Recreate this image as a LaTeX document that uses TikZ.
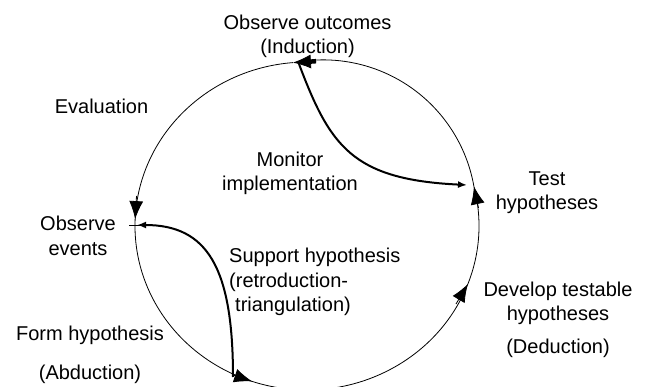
\documentclass[tikz,border=0pt]{standalone}
\usepackage{fontspec}
\setmainfont{Liberation Sans}
\usetikzlibrary{arrows.meta}
\begin{document}
\begin{tikzpicture}[x=1pt,y=1pt,
  lbl/.style={inner sep=0pt, align=center, anchor=base, font=\fontsize{20}{24.5}\selectfont},
  cyc/.style={line width=0.8pt},
  big/.style={-{Latex[length=18pt,width=14pt]}},
  link/.style={line width=2pt, -{Latex[length=9pt,width=7pt]}}]
\fill[white] (0,0) rectangle (646,386);
\useasboundingbox (0,0) rectangle (646,386);

% labels (anchor = baseline of the last line)
\node[lbl] (outc) at (307.5,332.5) {Observe outcomes\\[-1pt](Induction)};
\node[lbl] (eval) at (101.5,272) {Evaluation};
\node[lbl] (mon) at (290,195) {Monitor\\[-0.5pt]implementation};
\node[lbl] (test) at (547,176) {Test\\hypotheses};
\node[lbl] (obsev) at (78,130.5) {Observe\\events};
\node[lbl, anchor=base west, align=left] (supp) at (229,74.3) {Support hypothesis\\(retroduction-\\\hspace*{6pt}triangulation)};
\node[lbl] (dev) at (558,32) {Develop testable\\[-0.5pt]hypotheses\\[8.8pt](Deduction)};
\node[lbl] (form) at (90,6.7) {Form hypothesis\\[14.1pt](Abduction)};

% points on the cycle
\coordinate (pTop) at (292.9,323.4);
\coordinate (pLeft) at (135.15,166.9);
\coordinate (pBot) at (252.1,4.6);
\coordinate (pDev) at (467.9,102);
\coordinate (pTest) at (473.9,199.7);
\coordinate (tickL) at (129,160.5);
\coordinate (tickR) at (143,160.5);
\coordinate (stubA) at (305,324);
\coordinate (stubB) at (316,324.8);

% cycle arcs
\draw[cyc] (pTest) arc[start angle=10, end angle=101, radius=153pt];
\draw[cyc] (pTop) arc[start angle=94.7, end angle=177.6, x radius=172pt, y radius=164pt];
\draw[cyc] (pLeft) arc[start angle=177.6, end angle=251.4, x radius=172pt, y radius=164pt];
\draw[cyc] (pBot) arc[start angle=251.4, end angle=339.3, x radius=172pt, y radius=164pt];
\draw[cyc] (pDev) arc[start angle=339.3, end angle=374, x radius=172pt, y radius=164pt];

% arrowheads on the cycle
\coordinate (aTopB) at (316,324.8);
\coordinate (aLeftB) at (136.5,190);
\coordinate (aBotB) at (233,11);
\coordinate (aDevB) at (456,82);
\coordinate (aTestB) at (478.5,178);
\draw[cyc,big] (aTopB) -- (pTop);
\draw[cyc,big] (aLeftB) -- (pLeft);
\draw[cyc,big] (aBotB) -- (pBot);
\draw[cyc,big] (aDevB) -- (pDev);
\draw[cyc,big] (aTestB) -- (pTest);
\draw[line width=4.5pt] (stubA) -- (stubB);
\draw[line width=0.6pt] (tickL) -- (tickR);

% inner links
\coordinate (mS) at (299,322);
\coordinate (mE) at (467,201);
\draw[link] (mS) .. controls (330,240) and (352,206.5) .. (mE);
\coordinate (sS) at (233,9);
\coordinate (sE) at (137,161);
\draw[link] (sS) .. controls (233,119) and (207,161) .. (sE);
\end{tikzpicture}
\end{document}
